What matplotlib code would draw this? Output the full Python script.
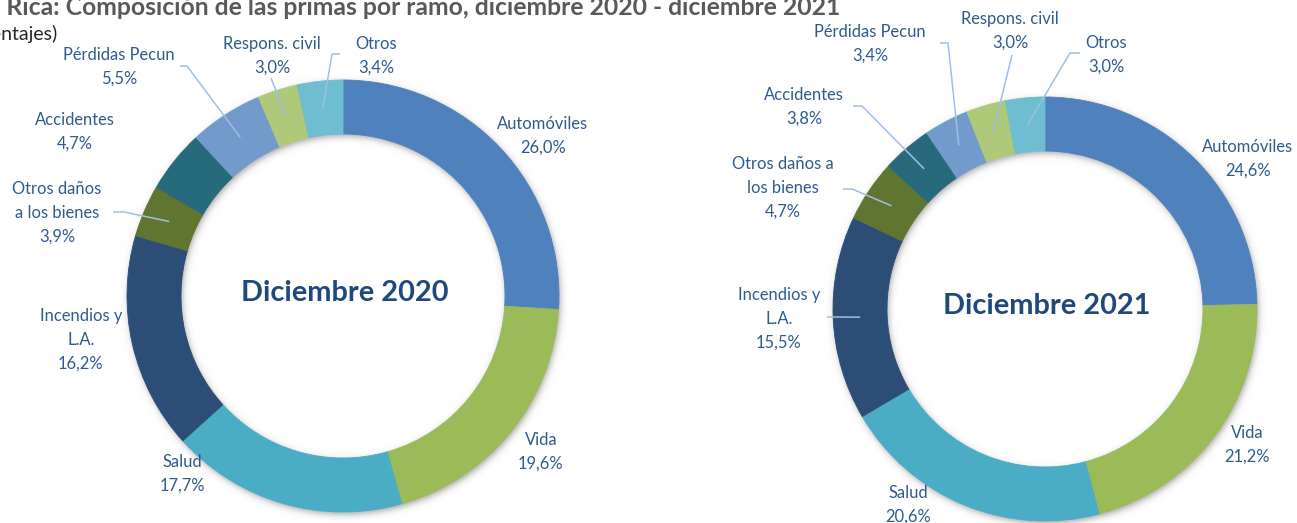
import numpy as np
import matplotlib
matplotlib.use("Agg")
import matplotlib.pyplot as plt

# ---------------- data ----------------
categories_2020 = ["Automóviles", "Vida", "Salud", "Incendios y\nL.A.", "Otros daños\na los bienes",
                   "Accidentes", "Pérdidas Pecun", "Respons. civil", "Otros"]
values_2020 = [26.0, 19.6, 17.7, 16.2, 3.9, 4.7, 5.5, 3.0, 3.4]

categories_2021 = ["Automóviles", "Vida", "Salud", "Incendios y\nL.A.", "Otros daños a\nlos bienes",
                   "Accidentes", "Pérdidas Pecun", "Respons. civil", "Otros"]
values_2021 = [24.6, 21.2, 20.6, 15.5, 4.7, 3.8, 3.4, 3.0, 3.0]

center_labels = ["Diciembre 2020", "Diciembre 2021"]
title_text = "Costa Rica: Composición de las primas por ramo, diciembre 2020 - diciembre 2021"
subtitle_text = "(porcentajes)"

# ---------------- style / layout ----------------
colors = ["#4F81BD", "#9BBB59", "#4BACC6", "#2C4D75", "#5F7530",
          "#276A7C", "#729ACA", "#AFC97A", "#6FBDD1"]
label_color = "#2F5B8F"
center_color = "#1F497D"
leader_color = "#9DC0E4"
FONT = "Lato"

W, H = 1297, 523
fig = plt.figure(figsize=(W / 100, H / 100), dpi=100)
ax = fig.add_axes([0, 0, 1, 1])


def P(x, y):
    """pixel (from top-left) -> data coords"""
    return x, H - y


# donut geometry in pixels
donuts = [
    dict(cx=343, cy=296, R=216, r=162),
    dict(cx=1045, cy=309, R=212, r=158),
]

# label block centres (pixels)
label_pos = [
    [(543, 136), (541, 452), (182, 474), (81, 340), (57, 213), (75, 132), (119, 67), (272, 56), (376, 56)],
    [(1248, 159), (1247, 445), (908, 505), (779, 319), (783, 188), (804, 107), (870, 44), (1010, 31), (1106, 55)],
]
# leader lines: index -> (start, knee)
leaders = [
    {4: ((113, 212), (124, 212)), 6: ((180, 66), (187, 66)), 7: ((271, 78), (271, 78)),
     8: ((340, 54), (332, 54))},
    {3: ((827, 317), (834, 317)), 4: ((843, 189), (852, 189)), 5: ((853, 106), (862, 106)),
     6: ((940, 43), (948, 43)), 7: ((1012, 55), (1012, 55)), 8: ((1080, 53), (1070, 53))},
]


def shadow(ax, g):
    cx, cy, R, r = g["cx"], g["cy"], g["R"], g["r"]
    pad = 25
    x0, x1 = cx - R - pad, cx + R + pad
    y0, y1 = cy - R - pad, cy + R + pad
    xs = np.arange(x0, x1) + 0.5
    ys = np.arange(y0, y1) + 0.5
    X, Y = np.meshgrid(xs, ys)
    d = np.hypot(X - cx - 1.5, Y - cy - 2.5)
    s = 4.0
    m = 0.5 * (np.tanh((d - r) / s) - np.tanh((d - R) / s))
    img = np.zeros(m.shape + (4,))
    img[..., :3] = 0.25
    img[..., 3] = np.clip(m, 0, 1) * 0.45
    ax.imshow(img, extent=(x0, x1, H - y1, H - y0), origin="upper", zorder=1,
              interpolation="bilinear")


datasets = [(categories_2020, values_2020), (categories_2021, values_2021)]

for k, ((cats, vals), g) in enumerate(zip(datasets, donuts)):
    shadow(ax, g)
    wedges, _ = ax.pie(vals, colors=colors, startangle=90, counterclock=False,
                       center=P(g["cx"], g["cy"]), radius=g["R"],
                       wedgeprops=dict(width=g["R"] - g["r"], linewidth=0.6))
    for w in wedges:
        w.set_edgecolor(w.get_facecolor())
        w.set_zorder(2)
    ax.text(*P(g["cx"] + 2, g["cy"] - 3), center_labels[k], ha="center", va="center",
            fontsize=20.8, fontweight="bold", color=center_color, family=FONT, zorder=5)

    total = float(sum(vals))
    cum = np.cumsum([0.0] + list(vals))
    Rm = (g["R"] + g["r"]) / 2.0
    for i, (c, v) in enumerate(zip(cats, vals)):
        lx, ly = label_pos[k][i]
        txt = c + "\n" + f"{v:.1f}".replace(".", ",") + "%"
        ax.text(*P(lx, ly), txt, ha="center", va="center", fontsize=11.9,
                color=label_color, family=FONT, linespacing=1.6, zorder=5)
        if i in leaders[k]:
            (sx, sy), (kx, ky) = leaders[k][i]
            theta = np.deg2rad(360.0 * (cum[i] + v / 2.0) / total)
            ex = g["cx"] + Rm * np.sin(theta)
            ey = g["cy"] - Rm * np.cos(theta)
            px = [sx, kx, ex]
            py = [H - sy, H - ky, H - ey]
            ax.plot(px, py, color=leader_color, lw=1.1, zorder=4, solid_capstyle="butt")

# title (cropped at left/top like the reference)
ax.text(*P(840, 15), title_text, ha="right", va="baseline", fontsize=17.8,
        fontweight="bold", color="#595959", family=FONT, zorder=6)
ax.text(*P(57, 40), subtitle_text, ha="right", va="baseline", fontsize=14,
        color="#262626", family=FONT, zorder=6)

ax.set_xlim(0, W)
ax.set_ylim(0, H)
ax.set_aspect("auto")
ax.axis("off")
fig.savefig("out.png", dpi=100, facecolor="white")
